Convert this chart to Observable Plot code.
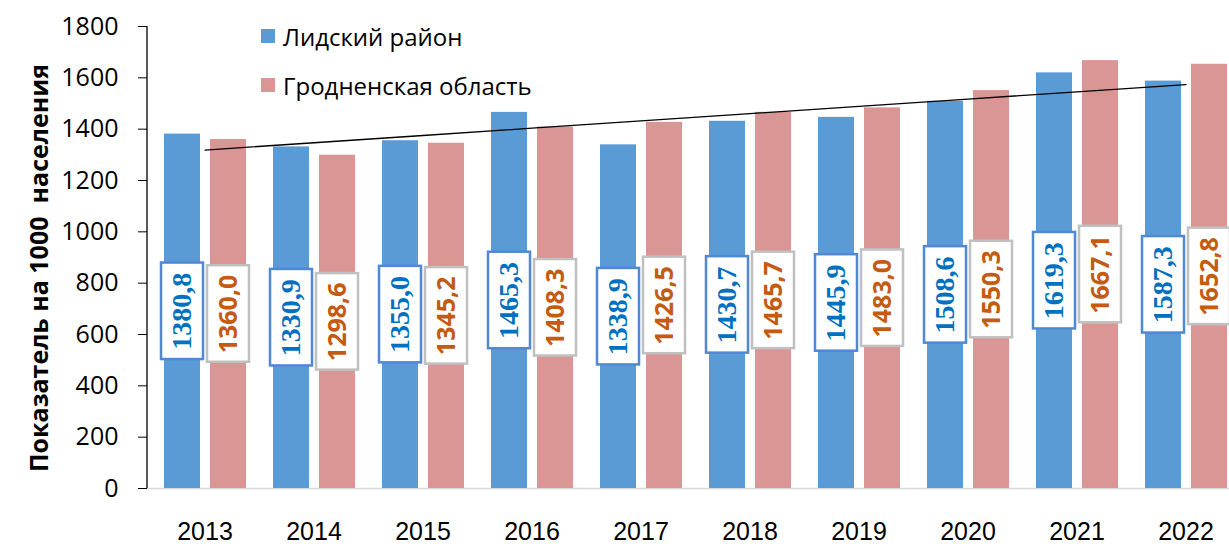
<!DOCTYPE html>
<html>
<head>
<meta charset="utf-8">
<script src="https://cdn.jsdelivr.net/npm/d3@7"></script>
<script src="https://cdn.jsdelivr.net/npm/@observablehq/plot@0.6"></script>
<style>
  html, body { margin: 0; padding: 0; background: white; overflow: hidden; }
  #wrap { position: relative; width: 1229px; height: 546px; overflow: hidden; }
  #ytitle { position: absolute; left: 38px; top: 268px; transform: translate(-50%, -50%) rotate(-90deg);
    font-family: "Open Sans", "Liberation Sans", sans-serif; font-weight: bold; font-size: 25px; white-space: pre; color: #000; }
  .leg { position: absolute; display: flex; align-items: center; font-family: "Open Sans", sans-serif; font-size: 24px; color: #000; white-space: nowrap; }
  .leg span.sw { display: inline-block; width: 14px; height: 14px; margin-right: 8px; }
</style>
</head>
<body>
<div id="wrap"></div>
<script>
const years = ["2013", "2014", "2015", "2016", "2017", "2018", "2019", "2020", "2021", "2022"];
const lida = [1380.8, 1330.9, 1355.0, 1465.3, 1338.9, 1430.7, 1445.9, 1508.6, 1619.3, 1587.3];
const grodno = [1360.0, 1298.6, 1345.2, 1408.3, 1426.5, 1465.7, 1483.0, 1550.3, 1667.1, 1652.8];
const yTicks = [0, 200, 400, 600, 800, 1000, 1200, 1400, 1600, 1800];
const seriesNames = ["Лидский район", "Гродненская область"];
const yTitle = "Показатель на 1000  населения";

const rows = years.map((y, i) => ({year: y, lida: lida[i], grodno: grodno[i]}));
const fmt = v => d3.format(".1f")(v).replace(".", ",");

// linear trend of the Lida series (Excel-like trendline)
const xs = years.map((_, i) => i + 1);
const mx = d3.mean(xs), my = d3.mean(lida);
const slope = d3.sum(xs, (x, i) => (x - mx) * (lida[i] - my)) / d3.sum(xs, x => (x - mx) ** 2);
const icpt = my - slope * mx;
const trend = years.map((y, i) => ({year: y, v: icpt + slope * (i + 1)}));

const BLUE = "#5b9bd5", PINK = "#da9694";
const HALF = 188; // half box height in data units

const axisLine = (index, scales, values, dims) => {
  const l = d3.create("svg:line")
    .attr("x1", dims.marginLeft).attr("x2", dims.marginLeft)
    .attr("y1", dims.marginTop).attr("y2", dims.height - dims.marginBottom)
    .attr("stroke", "#000").attr("stroke-width", 1.3);
  return l.node();
};

const chart = Plot.plot({
  width: 1229, height: 546,
  marginLeft: 147, marginRight: 0, marginTop: 26, marginBottom: 58,
  style: {fontFamily: "'Open Sans', sans-serif", fontSize: "25px", color: "#000", background: "white", overflow: "hidden"},
  x: {domain: years, range: [146, 1243], padding: 0, label: null},
  y: {domain: [0, 1800], label: null},
  marks: [
    Plot.ruleY([0], {stroke: "#d9d9d9", strokeWidth: 1.5}),
    Plot.barY(rows, {x: "year", y: "lida", fill: BLUE, insetLeft: 14, insetRight: 59}),
    Plot.barY(rows, {x: "year", y: "grodno", fill: PINK, insetLeft: 60, insetRight: 13}),
    Plot.line(trend, {x: "year", y: "v", stroke: "#000", strokeWidth: 1.3}),
    Plot.barY(rows, {x: "year", y1: d => d.lida / 2 - HALF, y2: d => d.lida / 2 + HALF, fill: "white", stroke: "#5088d4", strokeWidth: 2.5, insetLeft: 11, insetRight: 56}),
    Plot.barY(rows, {x: "year", y1: d => d.grodno / 2 - HALF, y2: d => d.grodno / 2 + HALF, fill: "white", stroke: "#c0c0c0", strokeWidth: 2.5, insetLeft: 57, insetRight: 10}),
    Plot.text(rows, {x: "year", y: d => d.lida / 2, text: d => fmt(d.lida), rotate: -90, dx: -22.5, fill: "#0070c0",
      fontFamily: "'Liberation Serif', serif", fontWeight: "bold", fontSize: 28, textAnchor: "middle", lineAnchor: "middle"}),
    Plot.text(rows, {x: "year", y: d => d.grodno / 2, text: d => fmt(d.grodno), rotate: -90, dx: 23.5, fill: "#c55a11",
      fontFamily: "'Open Sans', sans-serif", fontWeight: "bold", fontSize: 25, textAnchor: "middle", lineAnchor: "middle"}),
    Plot.axisY({ticks: yTicks, tickSize: 9, tickPadding: 20, tickFormat: d => String(d), label: null, stroke: "#000"}),
    Plot.axisX({tickSize: 0, tickPadding: 34, label: null, fontFamily: "'Liberation Sans', sans-serif", fontSize: 25}),
    axisLine
  ]
});

const wrap = document.getElementById("wrap");
wrap.appendChild(chart);

const t = document.createElement("div");
t.id = "ytitle"; t.textContent = yTitle; wrap.appendChild(t);

[[BLUE, 29], [PINK, 78]].forEach(([c, top], i) => {
  const d = document.createElement("div");
  d.className = "leg";
  d.style.left = "261px"; d.style.top = (top - 10) + "px"; d.style.height = "34px";
  d.innerHTML = `<span class="sw" style="background:${c}"></span><span>${seriesNames[i]}</span>`;
  wrap.appendChild(d);
});
</script>
</body>
</html>
